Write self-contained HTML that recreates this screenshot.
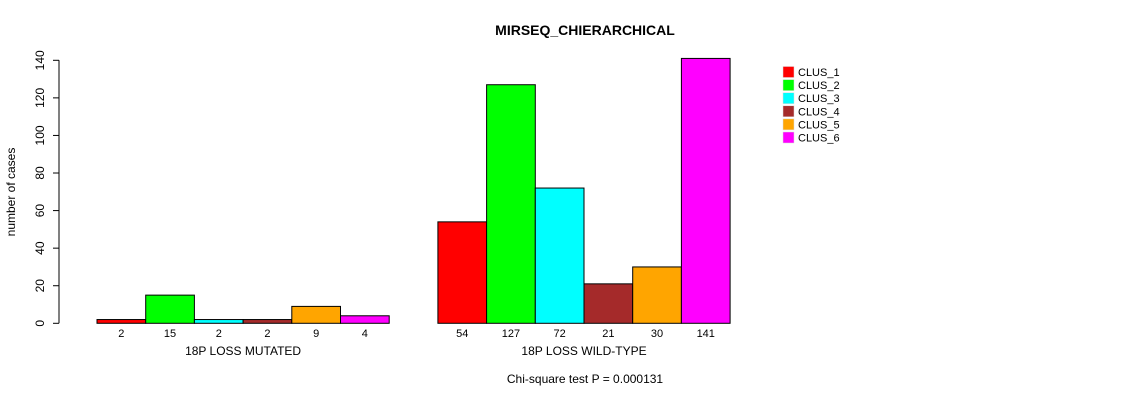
<!DOCTYPE html>
<html><head><meta charset="utf-8"><style>
html,body{margin:0;padding:0;background:#fff;}
svg{display:block;font-family:"Liberation Sans",sans-serif;}
</style></head><body>
<svg id="chart" width="1140" height="400" viewBox="0 0 1140 400">
<text x="585" y="35" text-anchor="middle" font-size="14" font-weight="bold">MIRSEQ_CHIERARCHICAL</text>
<text transform="translate(15,192) rotate(-90)" text-anchor="middle" font-size="12">number of cases</text>
<text x="585" y="383" text-anchor="middle" font-size="12">Chi-square test P = 0.000131</text>
<g id="axis"></g><g id="bars"></g><g id="legend"></g>
</svg>
<script>
const groups = ["18P LOSS MUTATED", "18P LOSS WILD-TYPE"];
const clusters = ["CLUS_1","CLUS_2","CLUS_3","CLUS_4","CLUS_5","CLUS_6"];
const mutatedValues = [2, 15, 2, 2, 9, 4];
const wildtypeValues = [54, 127, 72, 21, 30, 141];
const yTicks = [0, 20, 40, 60, 80, 100, 120, 140];
const colors = ["#ff0000","#00ff00","#00ffff","#a52a2a","#ffa500","#ff00ff"];

const NS = "http://www.w3.org/2000/svg";
const y0 = 323.3, yPerUnit = (323.3 - 60.3) / 140;
const yScale = v => y0 - v * yPerUnit;
const x0 = 97, bw = 48.7;
const xScale = (g, i) => x0 + (g * 7 + i) * bw;
function mk(tag, attrs, parent, text) {
  const e = document.createElementNS(NS, tag);
  for (const k in attrs) e.setAttribute(k, attrs[k]);
  if (text !== undefined) e.textContent = text;
  parent.appendChild(e);
  return e;
}
const axis = document.getElementById("axis");
let l = mk("line", {x1: 59, x2: 59, y1: yScale(0), y2: yScale(140), stroke: "#000"}, axis);


yTicks.forEach(t => {
  const y = yScale(t);
  const tk = mk("line", {x1: 53, x2: 59, y1: y, y2: y, stroke: "#000"}, axis);
  
  
  const tl = mk("text", {transform: `translate(44,${y}) rotate(-90)`, "text-anchor": "middle", "font-size": 12}, axis, String(t));
  
  
});
const bars = document.getElementById("bars");
[mutatedValues, wildtypeValues].forEach((vals, g) => {
  vals.forEach((v, i) => {
    const x = xScale(g, i);
    const r = mk("rect", {x: x, y: yScale(v), width: bw, height: yScale(0) - yScale(v), fill: colors[i], stroke: "#000", "stroke-width": 1}, bars);
    
    
    const t = mk("text", {x: x + bw / 2, y: 337, "text-anchor": "middle", "font-size": 11}, bars, String(v));
    
    
  });
  const gl = mk("text", {x: xScale(g, 3), y: 355, "text-anchor": "middle", "font-size": 12}, bars, groups[g]);
  
  
});
const legend = document.getElementById("legend");
clusters.forEach((c, i) => {
  const y = 66.5 + i * 13.1;
  const r = mk("rect", {x: 783, y: y, width: 11, height: 11, fill: colors[i], stroke: "#ddd", "stroke-width": 0.5}, legend);
  
  
  const t = mk("text", {x: 798, y: y + 9.5, "font-size": 11}, legend, c);
  
  
});
</script>
</body></html>
